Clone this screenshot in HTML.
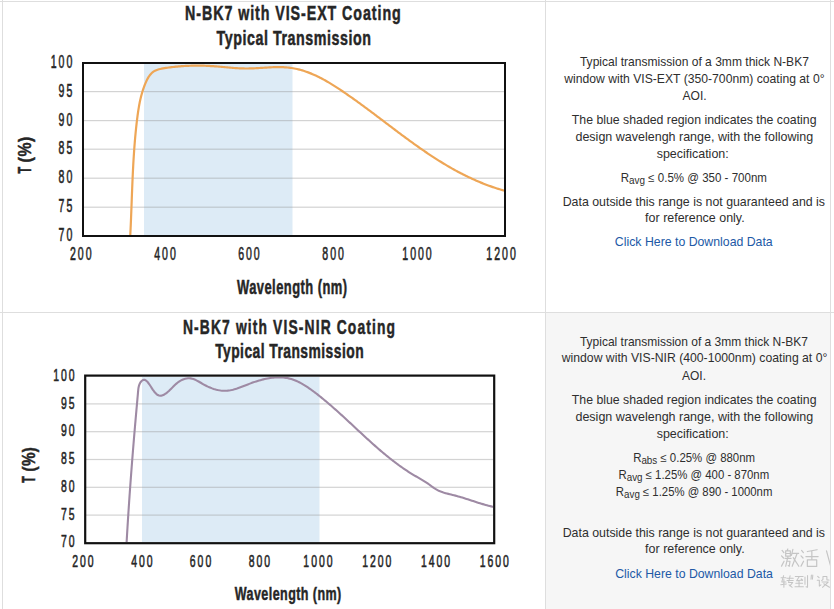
<!DOCTYPE html>
<html><head><meta charset="utf-8"><style>
html,body{margin:0;padding:0;background:#fff;}
svg{display:block;font-family:"Liberation Sans",sans-serif;}
</style></head><body>
<svg width="834" height="609" viewBox="0 0 834 609">
<rect x="546" y="313" width="284" height="296" fill="#f6f6f6"/>
<g fill="#dedede">
<rect x="0" y="1" width="834" height="1"/>
<rect x="0" y="312" width="834" height="1"/>
<rect x="2" y="0" width="1" height="609"/>
<rect x="545" y="0" width="1" height="609"/>
<rect x="830" y="0" width="1" height="609"/>
</g>
<rect x="144" y="64" width="148.5" height="171" fill="#ddebf6"/>
<rect x="84" y="91.0" width="420" height="1.2" fill="#969696" fill-opacity="0.42"/>
<rect x="84" y="120.0" width="420" height="1.2" fill="#969696" fill-opacity="0.42"/>
<rect x="84" y="148.6" width="420" height="1.2" fill="#969696" fill-opacity="0.42"/>
<rect x="84" y="177.6" width="420" height="1.2" fill="#969696" fill-opacity="0.42"/>
<rect x="84" y="206.6" width="420" height="1.2" fill="#969696" fill-opacity="0.42"/>
<clipPath id="c1"><rect x="84" y="64" width="420" height="171"/></clipPath>
<path d="M130.18,237.02 L130.25,235.62 L130.32,234.22 L130.39,232.82 L130.46,231.42 L130.53,230.02 L130.59,228.62 L130.65,227.22 L130.72,225.83 L130.78,224.43 L130.84,223.03 L130.90,221.64 L130.96,220.24 L131.01,218.84 L131.07,217.45 L131.12,216.05 L131.18,214.66 L131.23,213.26 L131.29,211.87 L131.34,210.47 L131.39,209.08 L131.45,207.69 L131.50,206.29 L131.55,204.90 L131.60,203.51 L131.66,202.11 L131.71,200.72 L131.76,199.33 L131.81,197.94 L131.86,196.54 L131.92,195.15 L131.97,193.76 L132.02,192.37 L132.08,190.98 L132.13,189.59 L132.19,188.20 L132.24,186.80 L132.30,185.41 L132.35,184.02 L132.41,182.63 L132.47,181.24 L132.53,179.85 L132.59,178.46 L132.65,177.07 L132.72,175.68 L132.78,174.29 L132.85,172.90 L132.92,171.51 L132.98,170.12 L133.05,168.73 L133.13,167.34 L133.20,165.95 L133.27,164.56 L133.35,163.17 L133.43,161.78 L133.51,160.40 L133.59,159.01 L133.68,157.62 L133.77,156.23 L133.86,154.84 L133.95,153.45 L134.04,152.06 L134.14,150.67 L134.24,149.28 L134.34,147.89 L134.44,146.50 L134.55,145.11 L134.66,143.72 L134.77,142.33 L134.89,140.94 L135.00,139.55 L135.12,138.16 L135.25,136.77 L135.38,135.38 L135.51,133.99 L135.64,132.60 L135.78,131.21 L135.92,129.82 L136.06,128.42 L136.21,127.03 L136.36,125.64 L136.52,124.25 L136.67,122.86 L136.84,121.47 L137.00,120.08 L137.17,118.68 L137.35,117.29 L137.53,115.90 L137.72,114.51 L137.91,113.12 L138.11,111.73 L138.32,110.34 L138.54,108.96 L138.77,107.57 L139.01,106.19 L139.26,104.82 L139.52,103.44 L139.79,102.07 L140.08,100.70 L140.39,99.34 L140.70,97.98 L141.04,96.63 L141.39,95.28 L141.76,93.93 L142.14,92.59 L142.55,91.26 L142.97,89.93 L143.41,88.61 L143.88,87.30 L144.36,85.99 L144.87,84.69 L145.40,83.40 L145.96,82.11 L146.54,80.84 L147.15,79.58 L147.80,78.36 L148.49,77.16 L149.23,76.02 L150.02,74.93 L150.87,73.92 L151.79,72.97 L152.78,72.12 L153.84,71.36 L154.99,70.70 L156.22,70.15 L157.51,69.69 L158.86,69.29 L160.24,68.96 L161.66,68.67 L163.08,68.42 L164.52,68.18 L165.95,67.95 L167.37,67.74 L168.80,67.53 L170.22,67.34 L171.65,67.16 L173.06,66.99 L174.48,66.83 L175.90,66.68 L177.31,66.54 L178.72,66.41 L180.13,66.29 L181.54,66.18 L182.95,66.09 L184.35,66.00 L185.75,65.92 L187.15,65.85 L188.55,65.79 L189.95,65.74 L191.35,65.70 L192.74,65.67 L194.14,65.64 L195.53,65.63 L196.92,65.62 L198.31,65.63 L199.69,65.64 L201.08,65.66 L202.46,65.69 L203.85,65.72 L205.23,65.77 L206.61,65.82 L207.99,65.88 L209.37,65.95 L210.75,66.03 L212.12,66.11 L213.50,66.20 L214.87,66.30 L216.25,66.40 L217.62,66.51 L218.99,66.63 L220.36,66.75 L221.74,66.87 L223.11,67.00 L224.48,67.13 L225.85,67.26 L227.22,67.39 L228.60,67.51 L229.97,67.64 L231.35,67.76 L232.72,67.87 L234.10,67.98 L235.48,68.08 L236.87,68.17 L238.25,68.26 L239.64,68.33 L241.03,68.39 L242.42,68.44 L243.82,68.47 L245.22,68.49 L246.63,68.50 L248.03,68.49 L249.44,68.46 L250.86,68.42 L252.27,68.37 L253.69,68.32 L255.11,68.25 L256.53,68.17 L257.96,68.09 L259.38,68.01 L260.81,67.92 L262.23,67.83 L263.66,67.74 L265.08,67.65 L266.50,67.56 L267.93,67.48 L269.35,67.40 L270.77,67.33 L272.19,67.27 L273.60,67.22 L275.01,67.17 L276.42,67.14 L277.83,67.13 L279.23,67.12 L280.63,67.14 L282.03,67.17 L283.42,67.22 L284.80,67.29 L286.18,67.39 L287.56,67.50 L288.92,67.64 L290.29,67.81 L291.64,68.00 L292.99,68.22 L294.33,68.46 L295.67,68.73 L297.00,69.02 L298.33,69.33 L299.65,69.67 L300.96,70.02 L302.27,70.40 L303.58,70.81 L304.87,71.23 L306.17,71.67 L307.45,72.13 L308.74,72.61 L310.01,73.11 L311.28,73.62 L312.55,74.15 L313.81,74.70 L315.07,75.27 L316.32,75.85 L317.57,76.45 L318.82,77.06 L320.06,77.69 L321.29,78.32 L322.52,78.98 L323.75,79.64 L324.97,80.32 L326.19,81.01 L327.41,81.70 L328.62,82.41 L329.82,83.13 L331.03,83.86 L332.23,84.60 L333.42,85.34 L334.62,86.09 L335.81,86.85 L336.99,87.62 L338.18,88.39 L339.36,89.17 L340.54,89.95 L341.71,90.74 L342.88,91.53 L344.05,92.32 L345.22,93.12 L346.38,93.92 L347.54,94.72 L348.70,95.53 L349.86,96.33 L351.01,97.14 L352.17,97.96 L353.31,98.77 L354.46,99.59 L355.61,100.41 L356.75,101.23 L357.89,102.05 L359.03,102.88 L360.17,103.70 L361.31,104.53 L362.44,105.36 L363.57,106.20 L364.71,107.03 L365.84,107.86 L366.96,108.70 L368.09,109.54 L369.22,110.37 L370.34,111.21 L371.47,112.05 L372.59,112.89 L373.71,113.74 L374.83,114.58 L375.95,115.42 L377.07,116.26 L378.18,117.11 L379.30,117.95 L380.42,118.80 L381.53,119.64 L382.65,120.48 L383.76,121.33 L384.88,122.17 L385.99,123.02 L387.11,123.86 L388.22,124.70 L389.33,125.55 L390.45,126.39 L391.56,127.23 L392.67,128.07 L393.79,128.91 L394.90,129.75 L396.01,130.59 L397.13,131.42 L398.24,132.26 L399.36,133.09 L400.47,133.93 L401.59,134.76 L402.70,135.59 L403.82,136.42 L404.94,137.24 L406.06,138.07 L407.18,138.89 L408.30,139.71 L409.42,140.53 L410.54,141.35 L411.67,142.16 L412.79,142.98 L413.92,143.79 L415.04,144.59 L416.17,145.40 L417.30,146.20 L418.44,147.00 L419.57,147.80 L420.70,148.59 L421.84,149.38 L422.98,150.17 L424.12,150.95 L425.26,151.73 L426.41,152.51 L427.55,153.29 L428.70,154.06 L429.85,154.82 L431.00,155.59 L432.16,156.35 L433.32,157.10 L434.47,157.85 L435.64,158.60 L436.80,159.34 L437.97,160.08 L439.14,160.82 L440.31,161.55 L441.49,162.28 L442.66,163.00 L443.85,163.71 L445.03,164.43 L446.22,165.13 L447.41,165.83 L448.60,166.53 L449.80,167.22 L451.00,167.91 L452.20,168.59 L453.41,169.27 L454.62,169.94 L455.83,170.60 L457.05,171.26 L458.27,171.92 L459.49,172.57 L460.72,173.21 L461.96,173.84 L463.19,174.47 L464.43,175.10 L465.68,175.72 L466.93,176.33 L468.18,176.93 L469.44,177.53 L470.70,178.12 L471.96,178.71 L473.23,179.29 L474.51,179.86 L475.79,180.42 L477.07,180.98 L478.36,181.53 L479.65,182.07 L480.95,182.61 L482.25,183.14 L483.56,183.66 L484.87,184.17 L486.19,184.68 L487.52,185.18 L488.84,185.67 L490.18,186.15 L491.52,186.63 L492.86,187.09 L494.21,187.55 L495.57,188.00 L496.93,188.44 L498.30,188.88 L499.67,189.30 L501.05,189.72 L502.43,190.12 L503.82,190.52 L505.22,190.91" fill="none" stroke="#eea656" stroke-width="2.2" clip-path="url(#c1)"/>
<rect x="83" y="63" width="422" height="173" fill="none" stroke="#111" stroke-width="2"/>
<text transform="translate(185.04,20.00) scale(0.68,1)" font-size="21" font-weight="bold" fill="#262626" letter-spacing="1.361" stroke="#262626" stroke-width="0.5">N-BK7 with VIS-EXT Coating</text>
<text transform="translate(216.54,44.60) scale(0.68,1)" font-size="21" font-weight="bold" fill="#262626" letter-spacing="0.799" stroke="#262626" stroke-width="0.5">Typical Transmission</text>
<text transform="translate(50.69,68.30) scale(0.6,1)" font-size="17.6" font-weight="normal" fill="#262626" letter-spacing="3.333" stroke="#262626" stroke-width="0.6">100</text>
<text transform="translate(58.60,97.03) scale(0.6,1)" font-size="17.6" font-weight="normal" fill="#262626" letter-spacing="3.333" stroke="#262626" stroke-width="0.6">95</text>
<text transform="translate(58.57,125.76) scale(0.6,1)" font-size="17.6" font-weight="normal" fill="#262626" letter-spacing="3.333" stroke="#262626" stroke-width="0.6">90</text>
<text transform="translate(58.60,154.49) scale(0.6,1)" font-size="17.6" font-weight="normal" fill="#262626" letter-spacing="3.333" stroke="#262626" stroke-width="0.6">85</text>
<text transform="translate(58.57,183.22) scale(0.6,1)" font-size="17.6" font-weight="normal" fill="#262626" letter-spacing="3.333" stroke="#262626" stroke-width="0.6">80</text>
<text transform="translate(58.60,211.95) scale(0.6,1)" font-size="17.6" font-weight="normal" fill="#262626" letter-spacing="3.333" stroke="#262626" stroke-width="0.6">75</text>
<text transform="translate(58.57,240.68) scale(0.6,1)" font-size="17.6" font-weight="normal" fill="#262626" letter-spacing="3.333" stroke="#262626" stroke-width="0.6">70</text>
<text transform="translate(69.93,260.20) scale(0.6,1)" font-size="17.6" font-weight="normal" fill="#262626" letter-spacing="3.333" stroke="#262626" stroke-width="0.6">200</text>
<text transform="translate(154.18,260.20) scale(0.6,1)" font-size="17.6" font-weight="normal" fill="#262626" letter-spacing="3.333" stroke="#262626" stroke-width="0.6">400</text>
<text transform="translate(238.13,260.20) scale(0.6,1)" font-size="17.6" font-weight="normal" fill="#262626" letter-spacing="3.333" stroke="#262626" stroke-width="0.6">600</text>
<text transform="translate(322.27,260.20) scale(0.6,1)" font-size="17.6" font-weight="normal" fill="#262626" letter-spacing="3.333" stroke="#262626" stroke-width="0.6">800</text>
<text transform="translate(402.26,260.20) scale(0.6,1)" font-size="17.6" font-weight="normal" fill="#262626" letter-spacing="3.333" stroke="#262626" stroke-width="0.6">1000</text>
<text transform="translate(486.36,260.20) scale(0.6,1)" font-size="17.6" font-weight="normal" fill="#262626" letter-spacing="3.333" stroke="#262626" stroke-width="0.6">1200</text>
<text transform="translate(236.99,294.20) scale(0.66,1)" font-size="19.6" font-weight="bold" fill="#262626" letter-spacing="0.687" stroke="#262626" stroke-width="0.5">Wavelength (nm)</text>
<g transform="translate(31,173.5) rotate(-90)"><text transform="translate(-0.12,0.00) scale(0.6,1)" font-size="18.4" font-weight="bold" fill="#262626" letter-spacing="-0.668" stroke="#262626" stroke-width="0.45">T</text><text transform="translate(11.11,0.00) scale(0.86,1)" font-size="18.4" font-weight="bold" fill="#262626" letter-spacing="0.679" stroke="#262626" stroke-width="0.45">(%)</text></g>
<rect x="142" y="377" width="177.5" height="165" fill="#ddebf6"/>
<rect x="86" y="403.3" width="407" height="1.2" fill="#969696" fill-opacity="0.42"/>
<rect x="86" y="431.1" width="407" height="1.2" fill="#969696" fill-opacity="0.42"/>
<rect x="86" y="458.9" width="407" height="1.2" fill="#969696" fill-opacity="0.42"/>
<rect x="86" y="486.7" width="407" height="1.2" fill="#969696" fill-opacity="0.42"/>
<rect x="86" y="514.5" width="407" height="1.2" fill="#969696" fill-opacity="0.42"/>
<clipPath id="c2"><rect x="86" y="377" width="407" height="165"/></clipPath>
<path d="M126.51,543.99 L126.59,542.56 L126.68,541.12 L126.76,539.69 L126.84,538.26 L126.92,536.83 L127.01,535.40 L127.09,533.96 L127.18,532.53 L127.26,531.09 L127.35,529.66 L127.44,528.23 L127.52,526.79 L127.61,525.36 L127.70,523.92 L127.79,522.49 L127.88,521.05 L127.97,519.62 L128.06,518.18 L128.15,516.74 L128.24,515.31 L128.34,513.87 L128.43,512.43 L128.53,511.00 L128.62,509.56 L128.72,508.12 L128.81,506.69 L128.91,505.25 L129.01,503.81 L129.10,502.37 L129.20,500.94 L129.30,499.50 L129.40,498.06 L129.50,496.62 L129.60,495.19 L129.70,493.75 L129.80,492.31 L129.90,490.87 L130.01,489.43 L130.11,488.00 L130.21,486.56 L130.32,485.12 L130.42,483.68 L130.53,482.25 L130.63,480.81 L130.74,479.37 L130.85,477.93 L130.95,476.50 L131.06,475.06 L131.17,473.62 L131.28,472.18 L131.39,470.75 L131.50,469.31 L131.61,467.87 L131.72,466.44 L131.83,465.00 L131.94,463.56 L132.05,462.13 L132.17,460.69 L132.28,459.26 L132.39,457.82 L132.51,456.38 L132.62,454.95 L132.74,453.51 L132.85,452.08 L132.97,450.65 L133.08,449.21 L133.20,447.78 L133.32,446.34 L133.44,444.91 L133.55,443.48 L133.67,442.05 L133.79,440.61 L133.91,439.18 L134.03,437.75 L134.15,436.32 L134.27,434.89 L134.39,433.46 L134.51,432.03 L134.64,430.60 L134.76,429.17 L134.88,427.74 L135.00,426.31 L135.13,424.88 L135.25,423.45 L135.38,422.03 L135.50,420.60 L135.63,419.17 L135.75,417.75 L135.88,416.32 L136.00,414.90 L136.13,413.47 L136.26,412.05 L136.38,410.62 L136.51,409.20 L136.64,407.77 L136.77,406.34 L136.89,404.91 L137.02,403.48 L137.15,402.04 L137.28,400.60 L137.41,399.15 L137.54,397.70 L137.67,396.25 L137.80,394.79 L137.92,393.32 L138.05,391.85 L138.19,390.37 L138.35,388.89 L138.57,387.43 L138.90,386.00 L139.35,384.60 L139.97,383.25 L140.76,382.00 L141.68,380.93 L142.69,380.15 L143.72,379.77 L144.75,379.84 L145.78,380.33 L146.79,381.15 L147.80,382.25 L148.80,383.56 L149.80,385.01 L150.79,386.53 L151.77,388.06 L152.75,389.55 L153.74,390.95 L154.73,392.24 L155.75,393.37 L156.79,394.32 L157.86,395.05 L158.97,395.53 L160.13,395.73 L161.34,395.64 L162.59,395.28 L163.86,394.70 L165.13,393.94 L166.41,393.04 L167.66,392.02 L168.89,390.94 L170.07,389.82 L171.20,388.71 L172.28,387.62 L173.33,386.56 L174.35,385.53 L175.38,384.54 L176.42,383.60 L177.49,382.70 L178.62,381.86 L179.80,381.07 L181.06,380.35 L182.38,379.71 L183.75,379.17 L185.15,378.73 L186.56,378.42 L187.97,378.26 L189.36,378.25 L190.72,378.39 L192.06,378.67 L193.39,379.07 L194.70,379.57 L196.00,380.15 L197.30,380.81 L198.60,381.51 L199.90,382.26 L201.21,383.02 L202.52,383.79 L203.85,384.54 L205.20,385.27 L206.57,385.97 L207.94,386.63 L209.33,387.26 L210.73,387.84 L212.14,388.38 L213.55,388.88 L214.97,389.32 L216.38,389.71 L217.80,390.05 L219.22,390.33 L220.63,390.55 L222.03,390.70 L223.43,390.79 L224.82,390.80 L226.20,390.75 L227.57,390.64 L228.94,390.47 L230.30,390.25 L231.65,389.98 L233.00,389.66 L234.35,389.30 L235.69,388.91 L237.04,388.49 L238.38,388.03 L239.73,387.55 L241.07,387.05 L242.42,386.54 L243.77,386.02 L245.13,385.48 L246.49,384.95 L247.85,384.41 L249.23,383.88 L250.61,383.36 L252.00,382.86 L253.39,382.36 L254.80,381.88 L256.20,381.42 L257.62,380.97 L259.04,380.54 L260.46,380.14 L261.88,379.75 L263.31,379.39 L264.74,379.05 L266.17,378.73 L267.60,378.45 L269.03,378.19 L270.46,377.96 L271.89,377.77 L273.32,377.61 L274.74,377.48 L276.16,377.38 L277.58,377.33 L278.99,377.31 L280.39,377.33 L281.79,377.39 L283.19,377.50 L284.57,377.65 L285.95,377.84 L287.31,378.08 L288.67,378.37 L290.02,378.71 L291.36,379.10 L292.69,379.53 L294.01,380.00 L295.32,380.51 L296.62,381.06 L297.91,381.65 L299.19,382.27 L300.46,382.93 L301.73,383.62 L302.98,384.33 L304.23,385.07 L305.47,385.84 L306.70,386.63 L307.92,387.44 L309.14,388.27 L310.35,389.12 L311.54,389.98 L312.74,390.85 L313.92,391.74 L315.10,392.63 L316.27,393.53 L317.43,394.44 L318.59,395.35 L319.74,396.26 L320.88,397.18 L322.02,398.10 L323.15,399.02 L324.27,399.95 L325.39,400.88 L326.51,401.81 L327.62,402.75 L328.72,403.69 L329.82,404.63 L330.91,405.57 L332.00,406.52 L333.09,407.47 L334.17,408.42 L335.25,409.37 L336.32,410.33 L337.39,411.28 L338.46,412.24 L339.53,413.20 L340.59,414.16 L341.65,415.13 L342.70,416.09 L343.76,417.06 L344.81,418.02 L345.86,418.99 L346.91,419.96 L347.96,420.93 L349.00,421.90 L350.05,422.87 L351.09,423.85 L352.14,424.82 L353.18,425.79 L354.22,426.76 L355.26,427.74 L356.31,428.71 L357.35,429.68 L358.39,430.65 L359.44,431.63 L360.48,432.60 L361.53,433.57 L362.58,434.54 L363.63,435.51 L364.68,436.48 L365.73,437.45 L366.79,438.41 L367.84,439.38 L368.90,440.34 L369.97,441.30 L371.03,442.27 L372.10,443.23 L373.17,444.18 L374.25,445.14 L375.33,446.09 L376.41,447.05 L377.50,447.99 L378.59,448.94 L379.68,449.89 L380.78,450.83 L381.88,451.76 L382.99,452.70 L384.10,453.63 L385.21,454.55 L386.33,455.47 L387.46,456.39 L388.58,457.30 L389.71,458.21 L390.85,459.11 L391.99,460.00 L393.14,460.89 L394.29,461.77 L395.44,462.64 L396.60,463.51 L397.76,464.37 L398.93,465.23 L400.10,466.07 L401.28,466.91 L402.46,467.74 L403.64,468.56 L404.84,469.38 L406.03,470.18 L407.23,470.97 L408.44,471.76 L409.65,472.53 L410.87,473.30 L412.09,474.05 L413.31,474.80 L414.54,475.53 L415.78,476.25 L417.02,476.96 L418.26,477.67 L419.50,478.38 L420.74,479.09 L421.98,479.81 L423.21,480.54 L424.43,481.28 L425.64,482.05 L426.84,482.84 L428.02,483.65 L429.19,484.50 L430.35,485.36 L431.51,486.22 L432.68,487.08 L433.85,487.91 L435.04,488.71 L436.26,489.45 L437.50,490.14 L438.78,490.76 L440.09,491.33 L441.42,491.84 L442.77,492.31 L444.14,492.74 L445.53,493.14 L446.93,493.52 L448.33,493.87 L449.75,494.22 L451.16,494.56 L452.58,494.91 L453.99,495.26 L455.39,495.62 L456.79,496.00 L458.18,496.39 L459.56,496.79 L460.95,497.20 L462.32,497.61 L463.70,498.04 L465.06,498.47 L466.43,498.90 L467.80,499.34 L469.16,499.79 L470.52,500.23 L471.88,500.68 L473.24,501.12 L474.60,501.57 L475.96,502.01 L477.33,502.45 L478.69,502.88 L480.06,503.30 L481.43,503.72 L482.81,504.13 L484.19,504.54 L485.57,504.93 L486.96,505.31 L488.35,505.68 L489.76,506.03 L491.16,506.37 L492.58,506.69 L494.00,507.00" fill="none" stroke="#9e8aa4" stroke-width="2.1" clip-path="url(#c2)"/>
<rect x="85.2" y="375.6" width="409" height="167.6" fill="none" stroke="#111" stroke-width="2.2"/>
<text transform="translate(182.97,333.70) scale(0.68,1)" font-size="20.4" font-weight="bold" fill="#262626" letter-spacing="1.645" stroke="#262626" stroke-width="0.5">N-BK7 with VIS-NIR Coating</text>
<text transform="translate(215.14,358.20) scale(0.68,1)" font-size="20.4" font-weight="bold" fill="#262626" letter-spacing="0.655" stroke="#262626" stroke-width="0.5">Typical Transmission</text>
<text transform="translate(53.19,380.80) scale(0.6,1)" font-size="17.4" font-weight="normal" fill="#262626" letter-spacing="3.333" stroke="#262626" stroke-width="0.6">100</text>
<text transform="translate(61.03,408.57) scale(0.6,1)" font-size="17.4" font-weight="normal" fill="#262626" letter-spacing="3.333" stroke="#262626" stroke-width="0.6">95</text>
<text transform="translate(61.00,436.34) scale(0.6,1)" font-size="17.4" font-weight="normal" fill="#262626" letter-spacing="3.333" stroke="#262626" stroke-width="0.6">90</text>
<text transform="translate(61.03,464.11) scale(0.6,1)" font-size="17.4" font-weight="normal" fill="#262626" letter-spacing="3.333" stroke="#262626" stroke-width="0.6">85</text>
<text transform="translate(61.00,491.88) scale(0.6,1)" font-size="17.4" font-weight="normal" fill="#262626" letter-spacing="3.333" stroke="#262626" stroke-width="0.6">80</text>
<text transform="translate(61.03,519.65) scale(0.6,1)" font-size="17.4" font-weight="normal" fill="#262626" letter-spacing="3.333" stroke="#262626" stroke-width="0.6">75</text>
<text transform="translate(61.00,547.42) scale(0.6,1)" font-size="17.4" font-weight="normal" fill="#262626" letter-spacing="3.333" stroke="#262626" stroke-width="0.6">70</text>
<text transform="translate(72.23,567.00) scale(0.6,1)" font-size="17.4" font-weight="normal" fill="#262626" letter-spacing="3.333" stroke="#262626" stroke-width="0.6">200</text>
<text transform="translate(131.16,567.00) scale(0.6,1)" font-size="17.4" font-weight="normal" fill="#262626" letter-spacing="3.333" stroke="#262626" stroke-width="0.6">400</text>
<text transform="translate(189.81,567.00) scale(0.6,1)" font-size="17.4" font-weight="normal" fill="#262626" letter-spacing="3.333" stroke="#262626" stroke-width="0.6">600</text>
<text transform="translate(248.64,567.00) scale(0.6,1)" font-size="17.4" font-weight="normal" fill="#262626" letter-spacing="3.333" stroke="#262626" stroke-width="0.6">800</text>
<text transform="translate(303.35,567.00) scale(0.6,1)" font-size="17.4" font-weight="normal" fill="#262626" letter-spacing="3.333" stroke="#262626" stroke-width="0.6">1000</text>
<text transform="translate(362.14,567.00) scale(0.6,1)" font-size="17.4" font-weight="normal" fill="#262626" letter-spacing="3.333" stroke="#262626" stroke-width="0.6">1200</text>
<text transform="translate(420.93,567.00) scale(0.6,1)" font-size="17.4" font-weight="normal" fill="#262626" letter-spacing="3.333" stroke="#262626" stroke-width="0.6">1400</text>
<text transform="translate(479.72,567.00) scale(0.6,1)" font-size="17.4" font-weight="normal" fill="#262626" letter-spacing="3.333" stroke="#262626" stroke-width="0.6">1600</text>
<text transform="translate(234.79,599.90) scale(0.66,1)" font-size="19" font-weight="bold" fill="#262626" letter-spacing="0.651" stroke="#262626" stroke-width="0.5">Wavelength (nm)</text>
<g transform="translate(34.5,482.7) rotate(-90)"><text transform="translate(-0.12,0.00) scale(0.6,1)" font-size="17.8" font-weight="bold" fill="#262626" letter-spacing="-0.982" stroke="#262626" stroke-width="0.45">T</text><text transform="translate(11.14,0.00) scale(0.86,1)" font-size="17.8" font-weight="bold" fill="#262626" letter-spacing="0.418" stroke="#262626" stroke-width="0.45">(%)</text></g>
<text x="579.93" y="66.00" font-size="12.2" font-weight="normal" fill="#2e2e2e" textLength="228.97" lengthAdjust="spacingAndGlyphs">Typical transmission of a 3mm thick N-BK7</text>
<text x="564.22" y="82.70" font-size="12.2" font-weight="normal" fill="#2e2e2e" textLength="260.31" lengthAdjust="spacingAndGlyphs">window with VIS-EXT (350-700nm) coating at 0°</text>
<text x="682.48" y="99.50" font-size="12.2" font-weight="normal" fill="#2e2e2e" textLength="24.12" lengthAdjust="spacingAndGlyphs">AOI.</text>
<text x="571.82" y="123.50" font-size="12.2" font-weight="normal" fill="#2e2e2e" textLength="244.67" lengthAdjust="spacingAndGlyphs">The blue shaded region indicates the coating</text>
<text x="575.48" y="140.80" font-size="12.2" font-weight="normal" fill="#2e2e2e" textLength="237.63" lengthAdjust="spacingAndGlyphs">design wavelengh range, with the following</text>
<text x="656.65" y="157.90" font-size="12.2" font-weight="normal" fill="#2e2e2e" textLength="72.09" lengthAdjust="spacingAndGlyphs">specification:</text>
<text x="562.69" y="206.00" font-size="12.2" font-weight="normal" fill="#2e2e2e" textLength="262.36" lengthAdjust="spacingAndGlyphs">Data outside this range is not guaranteed and is</text>
<text x="645.13" y="222.40" font-size="12.2" font-weight="normal" fill="#2e2e2e" textLength="99.50" lengthAdjust="spacingAndGlyphs">for reference only.</text>
<text x="614.88" y="246.30" font-size="12.2" font-weight="normal" fill="#2159a6" textLength="157.82" lengthAdjust="spacingAndGlyphs">Click Here to Download Data</text>
<text x="579.93" y="346.00" font-size="12.2" font-weight="normal" fill="#2e2e2e" textLength="227.97" lengthAdjust="spacingAndGlyphs">Typical transmission of a 3mm thick N-BK7</text>
<text x="561.72" y="362.20" font-size="12.2" font-weight="normal" fill="#2e2e2e" textLength="265.62" lengthAdjust="spacingAndGlyphs">window with VIS-NIR (400-1000nm) coating at 0°</text>
<text x="681.98" y="379.50" font-size="12.2" font-weight="normal" fill="#2e2e2e" textLength="24.02" lengthAdjust="spacingAndGlyphs">AOI.</text>
<text x="571.82" y="403.50" font-size="12.2" font-weight="normal" fill="#2e2e2e" textLength="244.67" lengthAdjust="spacingAndGlyphs">The blue shaded region indicates the coating</text>
<text x="575.48" y="420.80" font-size="12.2" font-weight="normal" fill="#2e2e2e" textLength="237.63" lengthAdjust="spacingAndGlyphs">design wavelengh range, with the following</text>
<text x="656.65" y="437.90" font-size="12.2" font-weight="normal" fill="#2e2e2e" textLength="72.09" lengthAdjust="spacingAndGlyphs">specification:</text>
<text x="562.69" y="536.80" font-size="12.2" font-weight="normal" fill="#2e2e2e" textLength="262.36" lengthAdjust="spacingAndGlyphs">Data outside this range is not guaranteed and is</text>
<text x="645.13" y="553.20" font-size="12.2" font-weight="normal" fill="#2e2e2e" textLength="99.50" lengthAdjust="spacingAndGlyphs">for reference only.</text>
<text x="615.18" y="577.60" font-size="12.2" font-weight="normal" fill="#2159a6" textLength="157.72" lengthAdjust="spacingAndGlyphs">Click Here to Download Data</text>
<text x="620.65" y="182" font-size="12.2" fill="#2e2e2e" textLength="146.31" lengthAdjust="spacingAndGlyphs">R<tspan font-size="10.5" dy="2.2">avg</tspan><tspan dy="-2.2"> ≤ 0.5% @ 350 - 700nm</tspan></text>
<text x="633.16" y="461.6" font-size="12.2" fill="#2e2e2e" textLength="121.89" lengthAdjust="spacingAndGlyphs">R<tspan font-size="10.5" dy="2.2">abs</tspan><tspan dy="-2.2"> ≤ 0.25% @ 880nm</tspan></text>
<text x="618.47" y="478.9" font-size="12.2" fill="#2e2e2e" textLength="150.68" lengthAdjust="spacingAndGlyphs">R<tspan font-size="10.5" dy="2.2">avg</tspan><tspan dy="-2.2"> ≤ 1.25% @ 400 - 870nm</tspan></text>
<text x="615.87" y="495.7" font-size="12.2" fill="#2e2e2e" textLength="156.48" lengthAdjust="spacingAndGlyphs">R<tspan font-size="10.5" dy="2.2">avg</tspan><tspan dy="-2.2"> ≤ 1.25% @ 890 - 1000nm</tspan></text>
<clipPath id="wmc"><rect x="770" y="540" width="60" height="60"/></clipPath>
<g clip-path="url(#wmc)" fill="none" stroke="#c5c5c5" stroke-linecap="round" stroke-linejoin="round"><path d="M782.08,550.44 L783.88,552.60 M781.54,555.84 L783.52,558.00 M781.54,566.10 L784.06,561.24 M787.84,549.00 L787.12,550.44 M785.68,550.80 L785.68,556.20 L790.36,556.20 L790.36,550.80 L785.68,550.80 M785.68,553.50 L790.36,553.50 M784.96,558.36 L791.08,558.36 M787.84,557.10 L787.84,558.36 M787.48,558.36 L785.68,566.28 M786.76,561.24 L790.00,561.24 L789.28,566.28 L788.20,565.56 M792.88,549.36 L791.44,555.48 M791.80,553.32 L798.64,553.32 M797.20,553.32 L792.16,566.28 M793.24,557.64 L798.82,566.28 M801.58,550.44 L803.38,552.60 M801.04,555.84 L803.02,558.00 M801.04,566.10 L803.56,561.24 M807.34,551.52 L817.06,549.72 M805.90,556.56 L818.14,556.56 M811.84,550.80 L811.84,559.80 M807.34,559.80 L816.70,559.80 L816.70,566.46 L807.34,566.46 L807.34,559.80 M826.50,550.80 L830.50,565.52 L834.50,553.20 L838.50,565.52 L842.50,550.80 " stroke-width="1.2"/><path d="M781.02,577.70 L785.96,577.70 M783.62,575.66 L781.80,581.90 L785.96,581.90 M783.88,579.50 L783.88,587.30 M780.76,584.66 L786.35,583.94 M787.00,578.30 L793.24,578.30 M790.12,575.66 L788.56,582.50 M787.00,580.58 L793.24,580.58 M788.56,582.50 L792.72,582.50 L789.86,585.86 M789.08,584.90 L792.20,587.30 M795.27,576.50 L803.10,576.50 M799.32,576.50 L796.62,580.70 L802.56,580.10 M801.21,578.90 L802.56,580.34 M795.81,583.22 L802.56,583.22 M799.05,580.70 L799.05,586.70 M795.00,586.82 L803.37,586.82 M804.99,577.10 L804.99,584.30 M807.55,575.54 L807.55,587.30 L806.07,586.70 M811.38,575.10 L811.02,579.30 M812.77,575.10 L812.42,579.30 M817.65,576.26 L819.08,577.70 M817.26,580.34 L819.34,580.34 L819.34,586.10 L820.90,584.90 M822.98,576.50 L822.98,579.38 L821.68,580.58 M822.98,576.50 L826.88,576.50 L826.88,579.86 L828.96,580.10 M822.20,582.02 L828.18,582.02 L822.46,587.30 M823.76,583.70 L829.48,587.30 " stroke-width="1.05"/></g>
</svg>
</body></html>
